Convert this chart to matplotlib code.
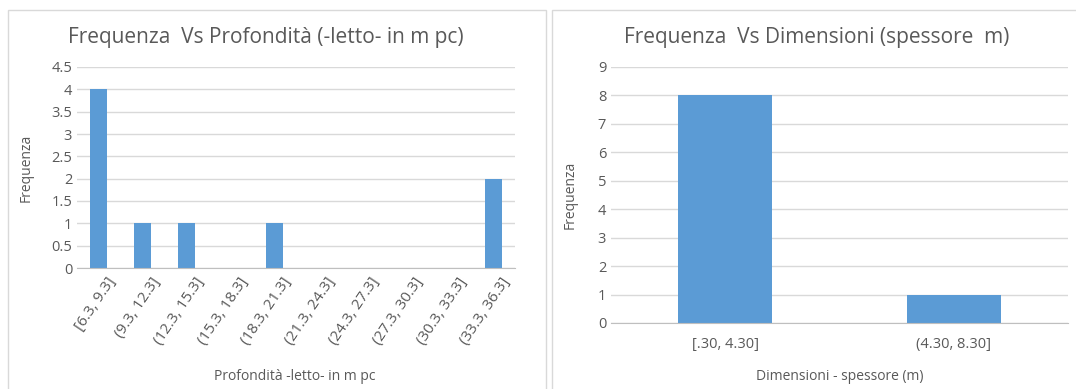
import matplotlib.pyplot as plt
import matplotlib.transforms as mtransforms
from matplotlib.patches import Rectangle

# dati
prof_labels = ["[6.3, 9.3]", "(9.3, 12.3]", "(12.3, 15.3]", "(15.3, 18.3]", "(18.3, 21.3]",
               "(21.3, 24.3]", "(24.3, 27.3]", "(27.3, 30.3]", "(30.3, 33.3]", "(33.3, 36.3]"]
prof_freq = [4, 1, 1, 0, 1, 0, 0, 0, 0, 2]
dim_labels = ["[.30, 4.30]", "(4.30, 8.30]"]
dim_freq = [8, 1]

plt.rcParams['font.family'] = ['Open Sans', 'DejaVu Sans']
bar_col = '#5b9bd5'
grid_col = '#d9d9d9'
txt_col = '#595959'

W, H = 1076, 389
fig = plt.figure(figsize=(W/100, H/100), dpi=100)

# bordi dei due grafici
fig.patches.append(Rectangle((8/W, -0.05), (546-8)/W, 1 - 10/H + 0.05, transform=fig.transFigure,
                             fill=False, edgecolor=grid_col, lw=1))
fig.patches.append(Rectangle((552/W, -0.05), 0.5, 1 - 10/H + 0.05, transform=fig.transFigure,
                             fill=False, edgecolor=grid_col, lw=1))

def stile(ax, ymax, step):
    ax.set_ylim(0, ymax)
    ax.set_yticks([i*step for i in range(int(round(ymax/step)) + 1)])
    ax.yaxis.grid(True, color=grid_col, lw=1)
    ax.set_axisbelow(True)
    for s in ['top', 'right', 'left']:
        ax.spines[s].set_visible(False)
    ax.spines['bottom'].set_color('#bfbfbf')
    ax.tick_params(length=0, colors=txt_col, labelsize=10.5)
    ax.set_ylabel("Frequenza", color=txt_col, fontsize=10)

# grafico sinistro
ax1 = fig.add_axes([77/W, 1 - 268/H, (515-77)/W, (268-67)/H])
ax1.bar(range(len(prof_freq)), prof_freq, width=0.39, color=bar_col)
ax1.set_xlim(-0.5, len(prof_freq) - 0.5)
stile(ax1, 4.5, 0.5)
ax1.set_yticklabels(["0", "0.5", "1", "1.5", "2", "2.5", "3", "3.5", "4", "4.5"])
ax1.set_xticks(range(len(prof_labels)))
ax1.set_xticklabels(prof_labels, rotation=56, ha='right', rotation_mode='anchor', fontsize=11)
ax1.tick_params(axis='x', pad=5)
sposta = mtransforms.ScaledTranslation(8/100, 0, fig.dpi_scale_trans)
for lab in ax1.get_xticklabels():
    lab.set_transform(lab.get_transform() + sposta)
ax1.yaxis.set_label_coords(-0.10, 0.5)
fig.text(266/W, 1 - 37/H, "Frequenza  Vs Profondità (-letto- in m pc)", ha='center', va='center',
         fontsize=15, color=txt_col)
fig.text(295/W, 1 - 377/H, "Profondità -letto- in m pc", ha='center', va='center', fontsize=10, color=txt_col)

# grafico destro
ax2 = fig.add_axes([611/W, 1 - 323/H, (1068-611)/W, (323-67)/H])
ax2.bar(range(len(dim_freq)), dim_freq, width=0.41, color=bar_col)
ax2.set_xlim(-0.5, len(dim_freq) - 0.5)
stile(ax2, 9, 1)
ax2.set_xticks(range(len(dim_labels)))
ax2.set_xticklabels(dim_labels)
ax2.tick_params(axis='x', pad=10)
ax2.yaxis.set_label_coords(-0.072, 0.5)
fig.text(817/W, 1 - 37/H, "Frequenza  Vs Dimensioni (spessore  m)", ha='center', va='center',
         fontsize=15, color=txt_col)
fig.text(840/W, 1 - 377/H, "Dimensioni - spessore (m)", ha='center', va='center', fontsize=10, color=txt_col)

fig.savefig("out.png", dpi=100)
